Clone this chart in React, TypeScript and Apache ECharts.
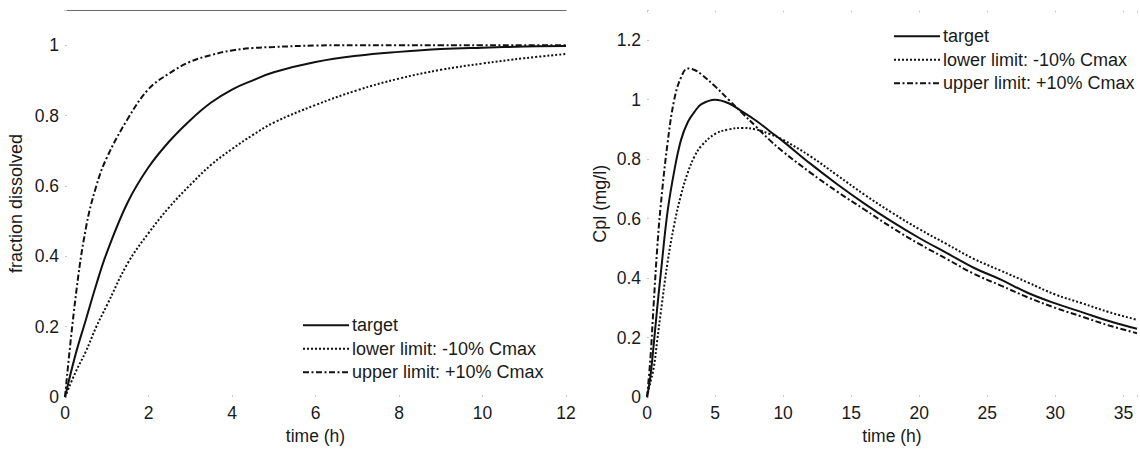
import React, { useEffect, useRef } from 'react';
import * as echarts from 'echarts';

// ---------- data ----------
const seriesNames = ['target', 'lower limit: -10% Cmax', 'upper limit: +10% Cmax'];

// Left: dissolution profiles
const leftTime = [0, 0.25, 0.5, 0.75, 1, 1.5, 2, 2.5, 3, 3.5, 4, 4.5, 5, 6, 7, 8, 9, 10, 11, 12];
const leftTarget = [0, 0.12, 0.22, 0.32, 0.41, 0.553, 0.653, 0.727, 0.787, 0.837, 0.874, 0.9, 0.923, 0.952, 0.97, 0.981, 0.989, 0.993, 0.996, 0.998];
const leftLower = [0, 0.07, 0.13, 0.2, 0.26, 0.38, 0.466, 0.54, 0.603, 0.66, 0.705, 0.745, 0.78, 0.83, 0.872, 0.905, 0.93, 0.948, 0.963, 0.975];
const leftUpper = [0, 0.28, 0.48, 0.6, 0.68, 0.79, 0.875, 0.92, 0.953, 0.972, 0.985, 0.992, 0.995, 0.999, 1, 1, 1, 1, 1, 1];

// Right: plasma concentration profiles
const rightTime = [0, 0.25, 0.5, 0.75, 1, 1.5, 2, 2.5, 3, 3.5, 4, 5, 6, 7, 8, 9, 10, 12, 14, 16, 18, 20, 22, 24, 26, 28, 30, 32, 34, 36];
const rightTarget = [0, 0.07, 0.18, 0.3, 0.41, 0.62, 0.76, 0.865, 0.925, 0.96, 0.985, 1.0, 0.988, 0.96, 0.93, 0.895, 0.86, 0.785, 0.715, 0.65, 0.59, 0.535, 0.485, 0.435, 0.395, 0.35, 0.315, 0.285, 0.255, 0.23];
const rightLower = [0, 0.05, 0.1, 0.19, 0.28, 0.45, 0.58, 0.68, 0.755, 0.81, 0.845, 0.885, 0.9, 0.905, 0.9, 0.885, 0.865, 0.81, 0.745, 0.68, 0.62, 0.565, 0.515, 0.465, 0.425, 0.385, 0.345, 0.315, 0.285, 0.26];
const rightUpper = [0, 0.13, 0.32, 0.5, 0.64, 0.85, 1.0, 1.075, 1.105, 1.1, 1.085, 1.045, 1.0, 0.955, 0.91, 0.865, 0.825, 0.755, 0.69, 0.63, 0.57, 0.515, 0.465, 0.415, 0.375, 0.335, 0.3, 0.27, 0.24, 0.215];

// tick labels
const leftXTicks = [0, 2, 4, 6, 8, 10, 12];
const leftYTicks = [0, 0.2, 0.4, 0.6, 0.8, 1];
const rightXTicks = [0, 5, 10, 15, 20, 25, 30, 35];
const rightYTicks = [0, 0.2, 0.4, 0.6, 0.8, 1, 1.2];

const FONT = '"Liberation Sans", Arial, Helvetica, sans-serif';
const TEXT = '#1a1a1a';

const pairs = (xs: number[], ys: number[]) => xs.map((x, i) => [x, ys[i]]);
const fmt = (ticks: number[]) => (v: number) => {
  const hit = ticks.find((t) => Math.abs(t - v) < 1e-6);
  return hit === undefined ? '' : String(hit);
};

const lineStyles: any[] = [
  { color: '#111', width: 2, type: 'solid' },
  { color: '#111', width: 2, type: [2, 2] },
  { color: '#111', width: 2, type: [6, 2.5, 2, 2.5] },
];

export default function App() {
  const ref = useRef<HTMLDivElement>(null);
  useEffect(() => {
    if (!ref.current) return;
    const chart = echarts.init(ref.current, null, { renderer: 'svg' });

    const axisLabel = (ticks: number[], margin: number) => ({
      fontFamily: FONT,
      fontSize: 17.5,
      color: TEXT,
      margin,
      formatter: fmt(ticks),
    });
    const tick = { show: true, inside: true, length: 2, lineStyle: { color: '#c8c8c8', width: 1 } };
    const nameStyle = { fontFamily: FONT, fontSize: 17.5, color: TEXT };

    const mkSeries = (xIdx: number, yIdx: number, xs: number[], ys: number[][]) =>
      ys.map((vals, i) => ({
        type: 'line',
        name: seriesNames[i],
        xAxisIndex: xIdx,
        yAxisIndex: yIdx,
        data: pairs(xs, vals),
        showSymbol: false,
        symbol: 'none',
        smooth: 0.4,
        lineStyle: lineStyles[i],
        itemStyle: { color: '#111' },
        z: 3 - i,
      }));

    const legend = (left: number, top: number) => ({
      orient: 'vertical',
      left,
      top,
      padding: 0,
      itemGap: 5,
      itemWidth: 46,
      itemHeight: 14,
      selectedMode: false,
      data: seriesNames,
      itemStyle: { opacity: 0 },
      textStyle: { fontFamily: FONT, fontSize: 18, color: TEXT, lineHeight: 18.5, padding: [0, 0, 0, -2] },
    });

    const option: any = {
      animation: false,
      backgroundColor: '#ffffff',
      grid: [
        { left: 65, top: 10, width: 501, height: 393.5 },
        { left: 647, top: 10.5, width: 504, height: 393.5 },
      ],
      xAxis: [
        {
          type: 'value', gridIndex: 0, min: 0, max: 12, interval: 2,
          axisLine: { show: false }, axisTick: tick, splitLine: { show: false },
          axisLabel: axisLabel(leftXTicks, 7),
          name: 'time (h)', nameLocation: 'middle', nameGap: 28, nameTextStyle: nameStyle,
        },
        {
          type: 'value', gridIndex: 1, min: 0, max: 36, interval: 5,
          axisLine: { show: false }, axisTick: tick, splitLine: { show: false },
          axisLabel: axisLabel(rightXTicks, 7),
          name: 'time (h)', nameLocation: 'middle', nameGap: 28, nameTextStyle: nameStyle,
        },
        {
          type: 'value', gridIndex: 0, min: 0, max: 12, interval: 2, position: 'top',
          axisLine: { show: true, lineStyle: { color: '#6a6a6a', width: 1 } },
          axisTick: { show: false }, axisLabel: { show: false }, splitLine: { show: false },
        },
        {
          type: 'value', gridIndex: 1, min: 0, max: 36, interval: 5, position: 'top',
          axisLine: { show: false }, axisTick: tick, axisLabel: { show: false }, splitLine: { show: false },
        },
      ],
      yAxis: [
        {
          type: 'value', gridIndex: 0, min: 0, max: 1.1, interval: 0.2,
          axisLine: { show: false }, axisTick: tick, splitLine: { show: false },
          axisLabel: axisLabel(leftYTicks, 6),
          name: 'fraction dissolved', nameLocation: 'middle', nameGap: 40,
          nameTextStyle: { ...nameStyle, fontSize: 18 },
        },
        {
          type: 'value', gridIndex: 1, min: 0, max: 1.3, interval: 0.2,
          axisLine: { show: false }, axisTick: tick, splitLine: { show: false },
          axisLabel: axisLabel(rightYTicks, 6),
          name: 'Cpl (mg/l)', nameLocation: 'middle', nameGap: 38,
          nameTextStyle: { ...nameStyle, fontSize: 18 },
        },
      ],
      legend: [legend(302, 316), legend(893, 27)],
      series: [
        ...mkSeries(0, 0, leftTime, [leftTarget, leftLower, leftUpper]),
        ...mkSeries(1, 1, rightTime, [rightTarget, rightLower, rightUpper]),
      ],
    };
    chart.setOption(option);
    return () => chart.dispose();
  }, []);
  return (
    <div
      ref={ref}
      style={{ position: 'absolute', left: 0, top: 0, width: 1140, height: 450, background: '#fff' }}
    />
  );
}
